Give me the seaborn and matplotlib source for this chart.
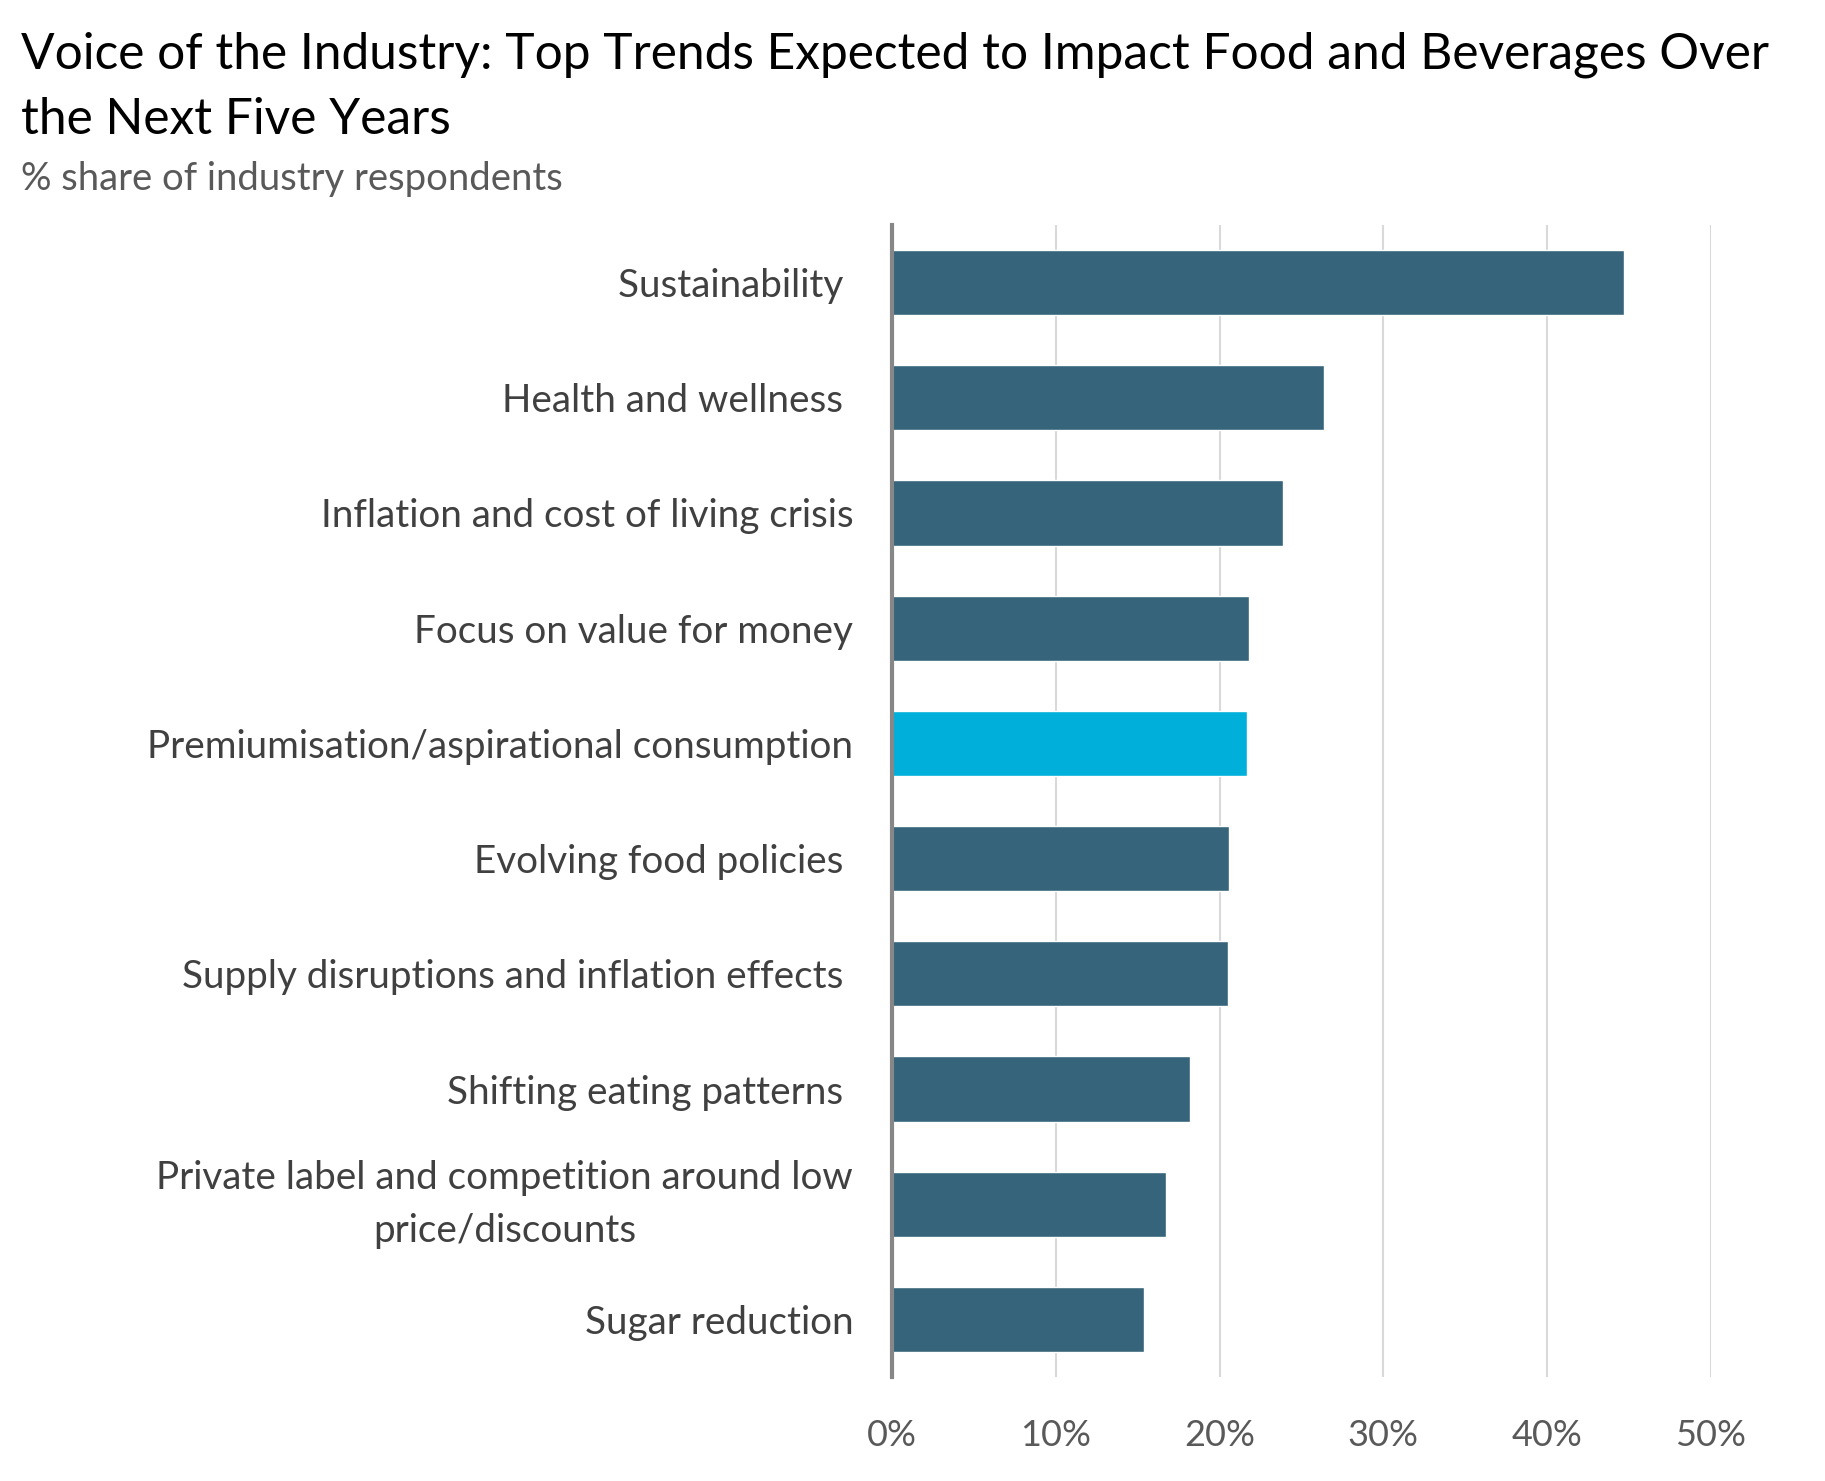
import matplotlib
matplotlib.use('Agg')
import matplotlib.pyplot as plt
import seaborn as sns
from matplotlib.ticker import MultipleLocator, FuncFormatter

# Данные
trends = [
    'Sustainability ',
    'Health and wellness ',
    'Inflation and cost of living crisis',
    'Focus on value for money',
    'Premiumisation/aspirational consumption',
    'Evolving food policies ',
    'Supply disruptions and inflation effects ',
    'Shifting eating patterns ',
    'Private label and competition around low\nprice/discounts',
    'Sugar reduction',
]
shares = [44.7, 26.4, 23.9, 21.8, 21.7, 20.6, 20.5, 18.2, 16.7, 15.4]
highlight = 'Premiumisation/aspirational consumption'

title = 'Voice of the Industry: Top Trends Expected to Impact Food and Beverages Over\nthe Next Five Years'
subtitle = '% share of industry respondents'

sns.set_theme(style='white')
plt.rcParams['font.family'] = ['Lato', 'DejaVu Sans']

fig = plt.figure(figsize=(18.25, 14.81), dpi=100)
ax = fig.add_axes([0.4888, 0.0702, 0.4487, 0.7779])

colors = ['#00B0DA' if t == highlight else '#36647B' for t in trends]
sns.barplot(x=shares, y=trends, hue=trends, palette=colors, legend=False,
            width=0.565, saturation=1, ax=ax)

ax.set_xlim(0, 50)
ax.xaxis.set_major_locator(MultipleLocator(10))
ax.xaxis.set_major_formatter(FuncFormatter(lambda v, p: f'{v:.0f}%'))
ax.grid(axis='x', color='#D9D9D9', linewidth=1.5)
ax.set_axisbelow(True)
for side in ['top', 'right', 'bottom']:
    ax.spines[side].set_visible(False)
ax.spines['left'].set_color('#878787')
ax.spines['left'].set_linewidth(3)
ax.set_xlabel('')
ax.set_ylabel('')

ax.tick_params(axis='x', length=0, pad=30, labelsize=26, labelcolor='#595959')
ax.tick_params(axis='y', length=0, pad=28, labelsize=27.8, labelcolor='#404040')
for lbl in ax.get_yticklabels():
    if '\n' in lbl.get_text():
        lbl.set_multialignment('center')
        lbl.set_linespacing(1.6)
        lbl.set_verticalalignment('center')

fig.text(0.0115, 0.979, title, ha='left', va='top', fontsize=35.7,
         color='#000000', linespacing=1.53)
fig.text(0.0115, 0.891, subtitle, ha='left', va='top', fontsize=27.5,
         color='#595959')

fig.savefig('out.png', dpi=100, facecolor='white')
